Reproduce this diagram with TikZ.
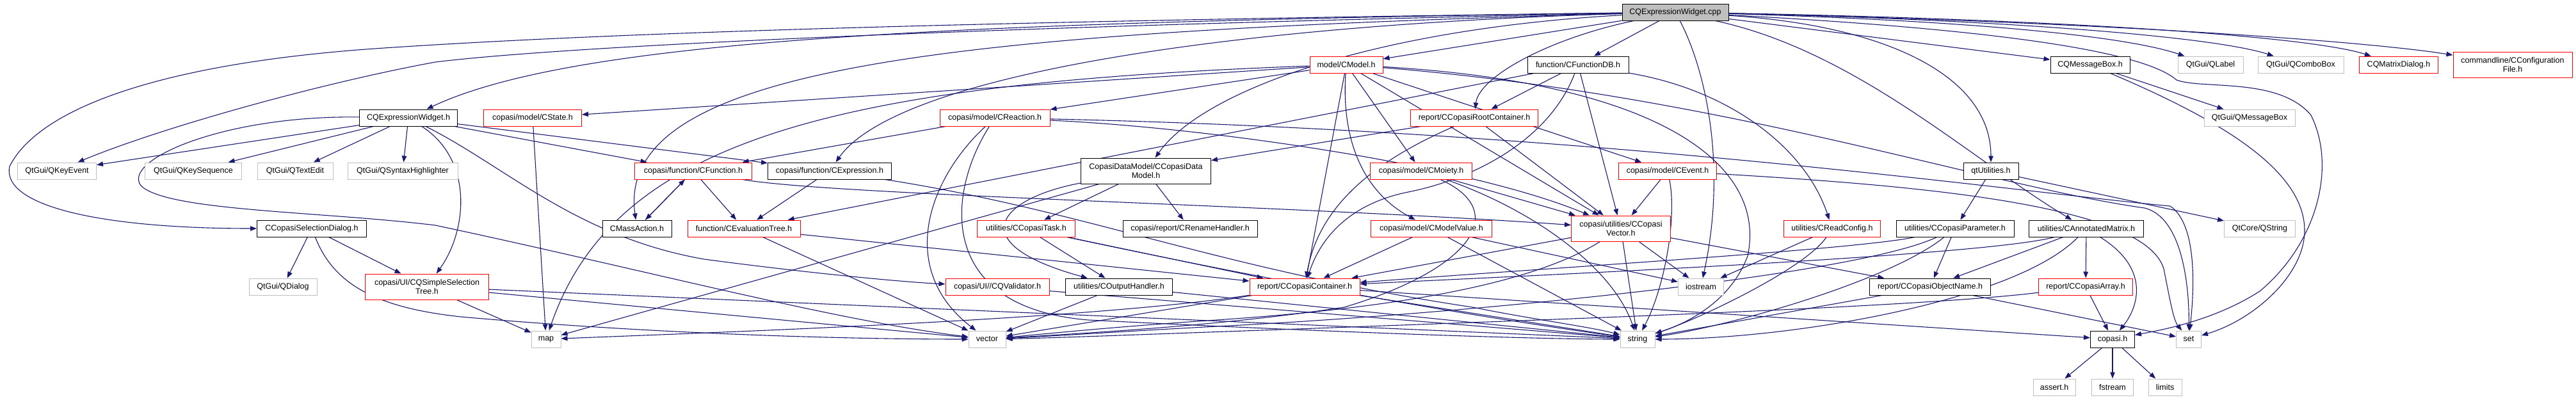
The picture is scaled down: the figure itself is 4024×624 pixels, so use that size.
\documentclass[tikz,border=0pt]{standalone}
\usepackage{fontspec}
\setmainfont{Liberation Sans}
\usetikzlibrary{arrows.meta}
\definecolor{eblue}{HTML}{191970}
\definecolor{ngray}{HTML}{BFBFBF}
\definecolor{rootfill}{HTML}{BFBFBF}
\newcommand{\dxfont}{\fontsize{12.5}{14.5}\selectfont}
\pgfdeclarelayer{edgelayer}
\pgfsetlayers{edgelayer,main}
\begin{document}
\begin{tikzpicture}[x=1pt,y=-1pt,
 base/.style={rectangle, fill=white, inner sep=0pt, line width=1pt, font=\dxfont, align=center, minimum height=26pt},
 nb/.style={base, draw=black},
 nr/.style={base, draw=red},
 ng/.style={base, draw=ngray},
 nroot/.style={base, draw=black, fill=rootfill},
 e/.style={draw=eblue, line width=1.1pt, -{Triangle[length=10pt,width=7.5pt]}}
]
\useasboundingbox (0,0) rectangle (4024,624);
% row 0
\node[nroot, minimum width=166pt] (root) at (2617,19) {CQExpressionWidget.cpp};
% row 1
\node[nr, minimum width=114pt] (cmodel) at (2103,101) {model/CModel.h};
\node[nb, minimum width=158pt] (cfdb) at (2465,101) {function/CFunctionDB.h};
\node[nb, minimum width=124pt] (cqmb) at (3265,101) {CQMessageBox.h};
\node[ng, minimum width=102pt] (qlabel) at (3453,101) {QtGui/QLabel};
\node[ng, minimum width=134pt] (qcombo) at (3594,101) {QtGui/QComboBox};
\node[nr, minimum width=123pt] (cqmd) at (3747,101) {CQMatrixDialog.h};
\node[nr, minimum width=186pt, minimum height=40pt] (cconf) at (3925,101) {commandline/CConfiguration\\File.h};
% row 2
\node[nb, minimum width=153pt] (cqewh) at (638,184) {CQExpressionWidget.h};
\node[nr, minimum width=153pt] (cstate) at (832,184) {copasi/model/CState.h};
\node[nr, minimum width=172pt] (creact) at (1554,184) {copasi/model/CReaction.h};
\node[nr, minimum width=199pt] (croot) at (2303,184) {report/CCopasiRootContainer.h};
\node[ng, minimum width=142pt] (qmsgbox) at (3514,184) {QtGui/QMessageBox};
% row 3
\node[ng, minimum width=123pt] (qkeyev) at (89,267) {QtGui/QKeyEvent};
\node[ng, minimum width=151pt] (qkeyseq) at (302,267) {QtGui/QKeySequence};
\node[ng, minimum width=118pt] (qtextedit) at (461,267) {QtGui/QTextEdit};
\node[ng, minimum width=172pt] (qsynt) at (629,267) {QtGui/QSyntaxHighlighter};
\node[nr, minimum width=183pt] (cfunc) at (1083,267) {copasi/function/CFunction.h};
\node[nb, minimum width=193pt] (cexpr) at (1296,267) {copasi/function/CExpression.h};
\node[nb, minimum width=203pt, minimum height=40pt] (ccdm) at (1790,267) {CopasiDataModel/CCopasiData\\Model.h};
\node[nr, minimum width=159pt] (cmoiety) at (2220,267) {copasi/model/CMoiety.h};
\node[nr, minimum width=153pt] (cevent) at (2605,267) {copasi/model/CEvent.h};
\node[nb, minimum width=86pt] (qtutil) at (3110,267) {qtUtilities.h};
% row 4
\node[nb, minimum width=171pt] (csel) at (487,357) {CCopasiSelectionDialog.h};
\node[nb, minimum width=108pt] (cmass) at (995,357) {CMassAction.h};
\node[nr, minimum width=176pt] (cevtree) at (1162,357) {function/CEvaluationTree.h};
\node[nr, minimum width=153pt] (ctask) at (1603,357) {utilities/CCopasiTask.h};
\node[nb, minimum width=210pt] (crename) at (1859,357) {copasi/report/CRenameHandler.h};
\node[nr, minimum width=189pt] (cmv) at (2236,357) {copasi/model/CModelValue.h};
\node[nr, minimum width=155pt, minimum height=40pt] (cvec) at (2532,357) {copasi/utilities/CCopasi\\Vector.h};
\node[nr, minimum width=151pt] (creadconf) at (2862,357) {utilities/CReadConfig.h};
\node[nb, minimum width=184pt] (cparam) at (3054,357) {utilities/CCopasiParameter.h};
\node[nb, minimum width=179pt] (cannot) at (3259,357) {utilities/CAnnotatedMatrix.h};
\node[ng, minimum width=111pt] (qstring) at (3530,357) {QtCore/QString};
% row 5
\node[ng, minimum width=106pt] (qdialog) at (442,448) {QtGui/QDialog};
\node[nr, minimum width=193pt, minimum height=40pt] (cqsst) at (667,448) {copasi/UI/CQSimpleSelection\\Tree.h};
\node[nr, minimum width=162pt] (cqval) at (1558,448) {copasi/UI//CQValidator.h};
\node[nb, minimum width=167pt] (couth) at (1748,448) {utilities/COutputHandler.h};
\node[nr, minimum width=172pt] (ccont) at (2038,448) {report/CCopasiContainer.h};
\node[ng, minimum width=71pt] (iostream) at (2657,448) {iostream};
\node[nb, minimum width=189pt] (cobjname) at (3015,448) {report/CCopasiObjectName.h};
\node[nr, minimum width=147pt] (carray) at (3258,448) {report/CCopasiArray.h};
% row 6
\node[ng, minimum width=46pt] (map) at (853,530) {map};
\node[ng, minimum width=58pt] (vector) at (1542,530) {vector};
\node[ng, minimum width=54pt] (string) at (2558,530) {string};
\node[nb, minimum width=69pt] (copasih) at (3300,530) {copasi.h};
\node[ng, minimum width=39pt] (set) at (3419,530) {set};
% row 7
\node[ng, minimum width=66pt] (assert) at (3209,605) {assert.h};
\node[ng, minimum width=65pt] (fstream) at (3300,605) {fstream};
\node[ng, minimum width=52pt] (limits) at (3382,605) {limits};

\begin{pgfonlayer}{edgelayer}
% ---- edges from root
\draw[e] (root) .. controls (1500,35) and (900,60) .. (cqewh);
\draw[e] (root) .. controls (1600,40) and (900,70) .. (680,97) .. controls (500,130) and (250,200) .. (qkeyev);
\draw[e] (root) .. controls (1400,35) and (900,55) .. (600,75) .. controls (250,98) and (60,170) .. (15,260) .. controls (2,320) and (150,357) .. (csel);
\draw[e] (root) .. controls (1500,50) and (960,100) .. (cmass);
\draw[e] (root) -- (cmodel);
\draw[e] (root) -- (cfdb);
\draw[e] (root) .. controls (2420,60) and (2310,120) .. (croot);
\draw[e] (root) .. controls (2150,45) and (1880,140) .. (ccdm);
\draw[e] (root) .. controls (1900,40) and (1400,120) .. (cexpr);
\draw[e] (root) -- (cqmb);
\draw[e] (root) .. controls (3000,30) and (3300,50) .. (qlabel);
\draw[e] (root) .. controls (3100,30) and (3450,55) .. (qcombo);
\draw[e] (root) .. controls (3200,30) and (3600,55) .. (cqmd);
\draw[e] (root) .. controls (3300,35) and (3700,65) .. (cconf);
\draw[e] (root) .. controls (2950,40) and (3110,120) .. (qtutil);
\draw[e] (root) .. controls (2660,100) and (2700,250) .. (iostream);
\draw[e] (root) .. controls (2900,80) and (3080,250) .. (cannot);
\draw[e] (root) .. controls (3200,50) and (3360,90) .. (3400,125) .. controls (3440,140) and (3560,120) .. (3610,180) .. controls (3650,260) and (3620,380) .. (3530,455) .. controls (3460,500) and (3380,515) .. (copasih);
% ---- CQMessageBox
\draw[e] (cqmb) -- (qmsgbox);
\draw[e] (cqmb) .. controls (3450,180) and (3600,260) .. (3600,360) .. controls (3600,430) and (3520,500) .. (set);
% ---- CQExpressionWidget.h
\draw[e] (cqewh) -- (qkeyev);
\draw[e] (cqewh) -- (qkeyseq);
\draw[e] (cqewh) -- (qtextedit);
\draw[e] (cqewh) -- (qsynt);
\draw[e] (cqewh) -- (cfunc);
\draw[e] (cqewh) -- (cexpr);
\draw[e] (cqewh) .. controls (740,250) and (730,360) .. (cqsst);
\draw[e] (cqewh) .. controls (790,260) and (900,370) .. (1100,405) .. controls (1250,425) and (1400,440) .. (cqval);
\draw[e] (cqewh) .. controls (350,180) and (190,250) .. (220,290) .. controls (260,330) and (500,330) .. (680,352) .. controls (1000,420) and (1300,500) .. (vector);
% ---- CCopasiSelectionDialog
\draw[e] (csel) -- (qdialog);
\draw[e] (csel) -- (cqsst);
\draw[e] (csel) .. controls (520,440) and (580,480) .. (720,495) .. controls (1000,520) and (1300,530) .. (vector);
% ---- CQSimpleSelectionTree
\draw[e] (cqsst) -- (map);
\draw[e] (cqsst) -- (vector);
\draw[e] (cqsst) -- (string);
% ---- CState
\draw[e] (cstate) -- (map);
% ---- CModel
\draw[e] (cmodel) -- (cstate);
\draw[e] (cmodel) .. controls (1300,130) and (960,220) .. (map);
\draw[e] (cmodel) -- (creact);
\draw[e] (cmodel) -- (cmoiety);
\draw[e] (cmodel) -- (cevent);
\draw[e] (cmodel) .. controls (2095,220) and (2130,300) .. (cmv);
\draw[e] (cmodel) -- (ccont);
\draw[e] (cmodel) -- (cvec);
\draw[e] (cmodel) .. controls (2600,130) and (2760,260) .. (2730,400) .. controls (2700,480) and (2620,510) .. (string);
\draw[e] (cmodel) .. controls (2700,150) and (3100,290) .. (3350,325) .. controls (3410,340) and (3420,450) .. (set);
% ---- CReaction
\draw[e] (creact) -- (cfunc);
\draw[e] (creact) .. controls (1900,200) and (2300,260) .. (cvec);
\draw[e] (creact) .. controls (1450,280) and (1400,420) .. (vector);
\draw[e] (creact) .. controls (1480,300) and (1460,480) .. (1700,500) .. controls (2100,520) and (2400,530) .. (string);
\draw[e] (creact) .. controls (2500,205) and (3150,300) .. (3390,322) .. controls (3432,350) and (3428,450) .. (set);
% ---- CFunction, CMassAction, CExpression, CEvaluationTree
\draw[e] (cfunc) -- (cmass);
\draw[e] (cmass) -- (cfunc);
\draw[e] (cfunc) -- (cevtree);
\draw[e] (cfunc) .. controls (1300,305) and (2000,320) .. (cvec);
\draw[e] (cexpr) -- (cevtree);
\draw[e] (cexpr) .. controls (1700,330) and (1900,420) .. (2300,480) .. controls (2400,500) and (2480,510) .. (string);
\draw[e] (cevtree) -- (vector);
\draw[e] (cevtree) -- (ccont);
% ---- CFunctionDB
\draw[e] (cfdb) -- (croot);
\draw[e] (cfdb) .. controls (2700,140) and (2820,230) .. (creadconf);
\draw[e] (cfdb) -- (cvec);
\draw[e] (cfdb) .. controls (2420,220) and (2300,280) .. (2200,300) .. controls (2100,320) and (2060,380) .. (ccont);
\draw[e] (cfdb) -- (cevtree);
% ---- CCopasiRootContainer
\draw[e] (croot) -- (ccdm);
\draw[e] (croot) .. controls (2150,250) and (2060,320) .. (ccont);
\draw[e] (croot) -- (cvec);
% ---- CCopasiDataModel
\draw[e] (ccdm) -- (ctask);
\draw[e] (ccdm) -- (crename);
\draw[e] (ccdm) -- (map);
\draw[e] (ccdm) .. controls (1560,310) and (1500,380) .. (couth);
% ---- CCopasiTask, COutputHandler, CQValidator
\draw[e] (ctask) -- (couth);
\draw[e] (ctask) -- (ccont);
\draw[e] (ctask) .. controls (1900,420) and (2200,480) .. (string);
\draw[e] (couth) -- (vector);
\draw[e] (couth) -- (string);
\draw[e] (cqval) -- (string);
% ---- CCopasiContainer
\draw[e] (ccont) -- (vector);
\draw[e] (ccont) -- (string);
\draw[e] (ccont) -- (copasih);
\draw[e] (ccont) .. controls (1700,500) and (1100,520) .. (map);
% ---- CModelValue, CCopasiVector, CMoiety, CEvent
\draw[e] (cmv) -- (ccont);
\draw[e] (cmv) -- (string);
\draw[e] (cmv) -- (iostream);
\draw[e] (cvec) -- (ccont);
\draw[e] (cvec) -- (string);
\draw[e] (cvec) -- (iostream);
\draw[e] (cvec) .. controls (2400,440) and (2200,480) .. (1900,500) .. controls (1750,510) and (1650,520) .. (vector);
\draw[e] (cvec) -- (cobjname);
\draw[e] (cmoiety) -- (cvec);
\draw[e] (cmoiety) .. controls (2400,330) and (2520,420) .. (string);
\draw[e] (cmoiety) .. controls (2360,330) and (2300,420) .. (2100,480) .. controls (1900,510) and (1700,520) .. (vector);
\draw[e] (cevent) -- (cvec);
\draw[e] (cevent) .. controls (2620,340) and (2600,450) .. (string);
\draw[e] (cevent) .. controls (3000,290) and (3350,320) .. (3380,420) .. controls (3390,470) and (3395,500) .. (set);
% ---- right block
\draw[e] (creadconf) -- (iostream);
\draw[e] (creadconf) .. controls (2820,420) and (2650,500) .. (string);
\draw[e] (cparam) -- (cobjname);
\draw[e] (cparam) .. controls (2900,390) and (2400,420) .. (ccont);
\draw[e] (cparam) .. controls (2900,430) and (2300,490) .. (1900,510) .. controls (1750,518) and (1650,525) .. (vector);
\draw[e] (cparam) .. controls (2950,440) and (2700,510) .. (string);
\draw[e] (cannot) -- (cobjname);
\draw[e] (cannot) -- (carray);
\draw[e] (cannot) .. controls (3360,420) and (3340,480) .. (copasih);
\draw[e] (cannot) .. controls (3100,400) and (2400,430) .. (ccont);
\draw[e] (cannot) .. controls (3150,470) and (2800,530) .. (string);
\draw[e] (cobjname) -- (string);
\draw[e] (cobjname) -- (set);
\draw[e] (carray) -- (copasih);
\draw[e] (carray) .. controls (3000,480) and (2400,500) .. (2000,515) .. controls (1800,522) and (1650,528) .. (vector);
\draw[e] (qtutil) -- (qstring);
\draw[e] (qtutil) -- (cparam);
\draw[e] (copasih) -- (assert);
\draw[e] (copasih) -- (fstream);
\draw[e] (copasih) -- (limits);
\end{pgfonlayer}
\end{tikzpicture}
\end{document}
